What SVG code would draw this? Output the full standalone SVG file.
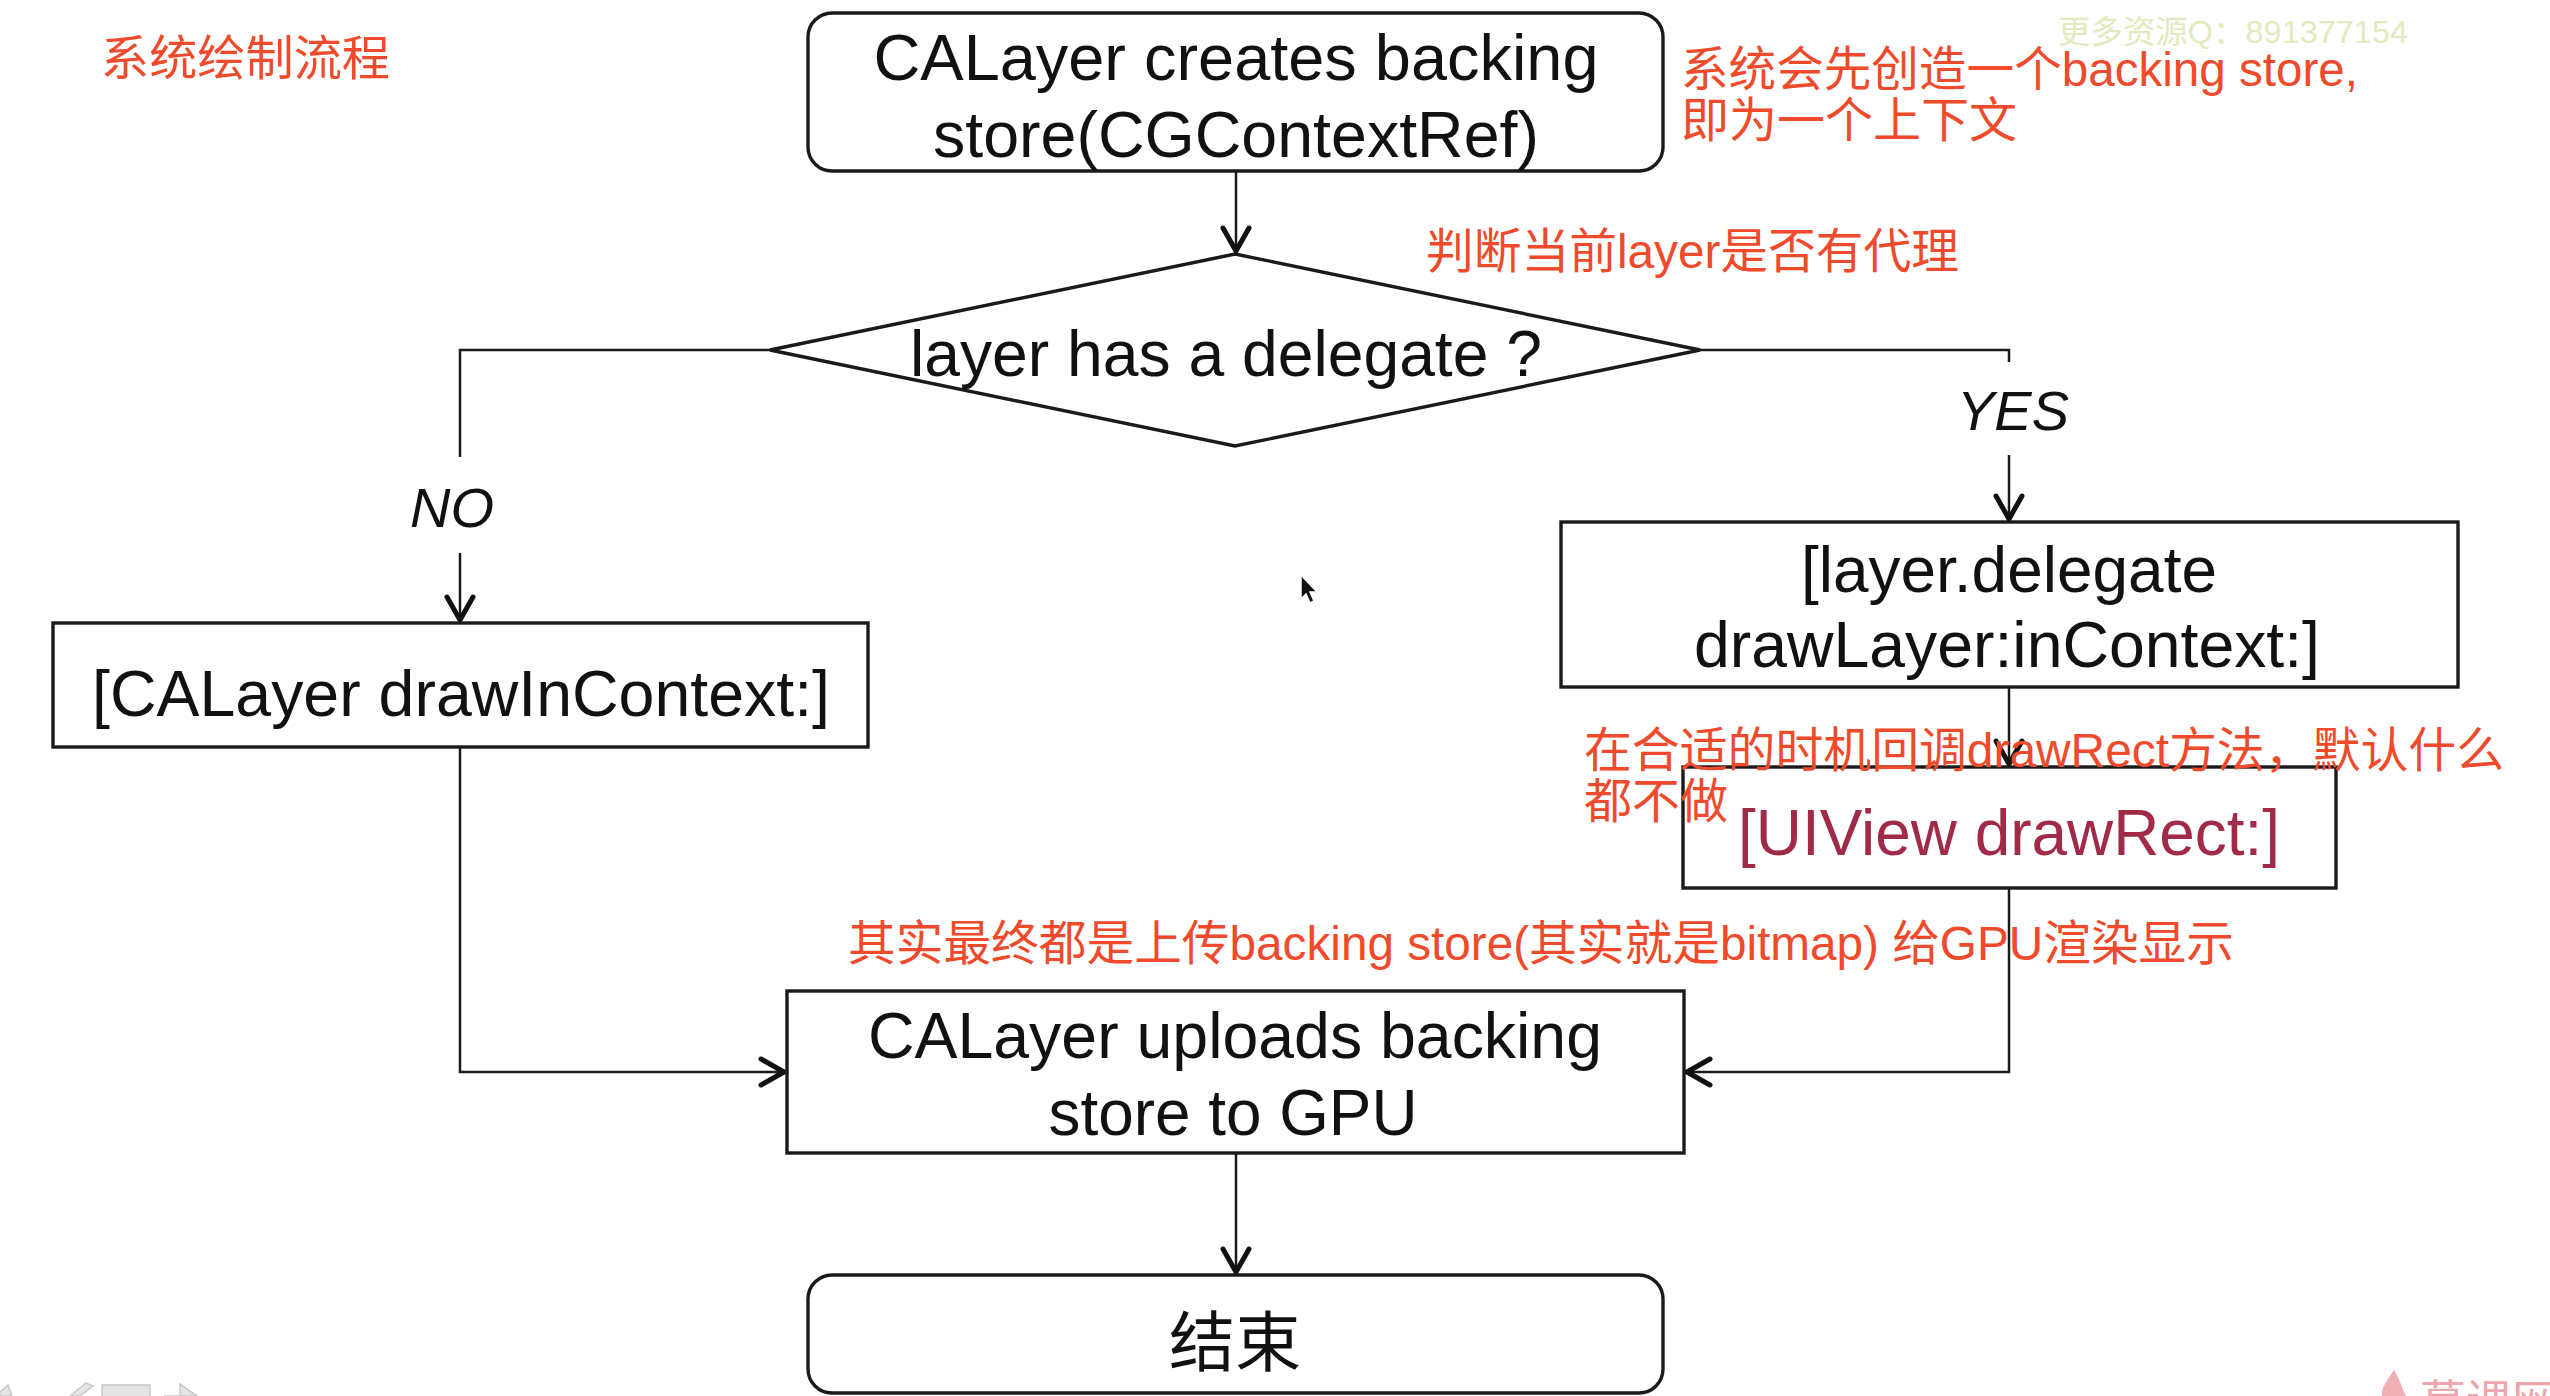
<svg xmlns="http://www.w3.org/2000/svg" width="2550" height="1396" viewBox="0 0 2550 1396">
<style>
.box{fill:#fff;stroke:#1a1a1a;stroke-width:3.4}
.lbl{font-family:"Liberation Sans","Noto Sans CJK SC",sans-serif;font-size:64px;fill:#111;text-anchor:middle}
.yn{font-family:"Liberation Sans",sans-serif;font-size:56px;font-style:italic;fill:#111;text-anchor:middle}
.note{font-family:"Liberation Sans","Noto Sans CJK SC",sans-serif;font-size:48px;fill:#ef4a2b}
.conn{fill:none;stroke:#1a1a1a;stroke-width:2.5}
</style>
<defs>
<marker id="arr" markerUnits="userSpaceOnUse" markerWidth="40" markerHeight="40" refX="29" refY="14" orient="auto" overflow="visible">
<path d="M3,1 L26,14 L3,27" fill="none" stroke="#111" stroke-width="5" stroke-linecap="round" stroke-linejoin="round"/>
</marker>
</defs>
<rect width="2550" height="1396" fill="#fff"/>

<g id="connectors">
<path class="conn" d="M1236,171 V254" marker-end="url(#arr)"/>
<path class="conn" d="M770,350 H460 V457"/>
<path class="conn" d="M460,553 V623" marker-end="url(#arr)"/>
<path class="conn" d="M1700,350 H2009 V362"/>
<path class="conn" d="M2009,455 V522" marker-end="url(#arr)"/>
<path class="conn" d="M2009,687 V767" marker-end="url(#arr)"/>
<path class="conn" d="M460,747 V1072 H787" marker-end="url(#arr)"/>
<path class="conn" d="M2009,888 V1072 H1684" marker-end="url(#arr)"/>
<path class="conn" d="M1236,1153 V1275" marker-end="url(#arr)"/>
<text class="yn" x="452" y="527">NO</text>
<text class="yn" x="2013" y="430">YES</text>
</g>

<g id="start">
<rect class="box" x="808" y="13" width="855" height="158" rx="24"/>
<text class="lbl" x="1236" y="80" textLength="725" lengthAdjust="spacingAndGlyphs">CALayer creates backing</text>
<text class="lbl" x="1236" y="157" textLength="606" lengthAdjust="spacingAndGlyphs">store(CGContextRef)</text>
</g>

<g id="decision">
<polygon class="box" points="1235,254 1700,350 1235,446 770,350"/>
<text class="lbl" x="1226" y="376" textLength="632" lengthAdjust="spacingAndGlyphs">layer has a delegate ?</text>
</g>

<g id="drawInContext">
<rect class="box" x="53" y="623" width="815" height="124"/>
<text class="lbl" x="461" y="716" textLength="738" lengthAdjust="spacingAndGlyphs">[CALayer drawInContext:]</text>
</g>

<g id="delegateDraw">
<rect class="box" x="1561" y="522" width="897" height="165"/>
<text class="lbl" x="2009" y="592" textLength="416" lengthAdjust="spacingAndGlyphs">[layer.delegate</text>
<text class="lbl" x="2007" y="667" textLength="626" lengthAdjust="spacingAndGlyphs">drawLayer:inContext:]</text>
</g>

<g id="drawRect">
<rect class="box" x="1683" y="767" width="653" height="121"/>
<text class="lbl" x="2009" y="855" textLength="542" lengthAdjust="spacingAndGlyphs" style="fill:#a02a48">[UIView drawRect:]</text>
</g>

<g id="upload">
<rect class="box" x="787" y="991" width="897" height="162"/>
<text class="lbl" x="1235" y="1058" textLength="734" lengthAdjust="spacingAndGlyphs">CALayer uploads backing</text>
<text class="lbl" x="1233" y="1135" textLength="369" lengthAdjust="spacingAndGlyphs">store to GPU</text>
</g>

<g id="end">
<rect class="box" x="808" y="1275" width="855" height="118" rx="24"/>
<text class="lbl" x="1235" y="1366" style="font-size:66px;font-family:'Noto Sans CJK SC',sans-serif">结束</text>
</g>

<g id="annotations">
<text class="note" x="101" y="75" textLength="289" lengthAdjust="spacingAndGlyphs">系统绘制流程</text>
<text class="note" x="1681" y="86" textLength="677" lengthAdjust="spacingAndGlyphs">系统会先创造一个backing store,</text>
<text class="note" x="1681" y="137">即为一个上下文</text>
<text class="note" x="1426" y="268" textLength="533" lengthAdjust="spacingAndGlyphs">判断当前layer是否有代理</text>
<text class="note" x="1584" y="767" textLength="920" lengthAdjust="spacingAndGlyphs">在合适的时机回调drawRect方法，默认什么</text>
<text class="note" x="1584" y="818">都不做</text>
<text class="note" x="848" y="960" textLength="1386" lengthAdjust="spacingAndGlyphs">其实最终都是上传backing store(其实就是bitmap) 给GPU渲染显示</text>
<text x="2058" y="43" style="font-family:'Liberation Sans','Noto Sans CJK SC',sans-serif;font-size:32px;fill:#e2ebbd" textLength="350" lengthAdjust="spacingAndGlyphs">更多资源Q：891377154</text>
<text x="2420" y="1418" style="font-family:'Noto Sans CJK SC',sans-serif;font-size:46px;fill:#eaa7ad">慕课网</text>
</g>

<g id="decor">
<path d="M2394,1370 C2386,1382 2380,1390 2382,1396 L2406,1396 C2402,1388 2400,1380 2394,1370 Z" fill="#eeb0b5"/>
<polygon points="1301,575 1301,599 1306,594 1310,603 1314,601 1310,592 1317,592" fill="#111" stroke="#fff" stroke-width="1.5"/>
<g fill="#e4e4e4" stroke="#c8c8c8" stroke-width="1.5">
<path d="M0,1392 L8,1385 L12,1396 L0,1396 Z"/>
<path d="M70,1396 L86,1383 L93,1386 L80,1396 Z"/>
<rect x="102" y="1385" width="48" height="14"/>
<path d="M164,1396 L180,1396 L180,1384 L197,1396 Z"/>
</g>
</g>
</svg>
